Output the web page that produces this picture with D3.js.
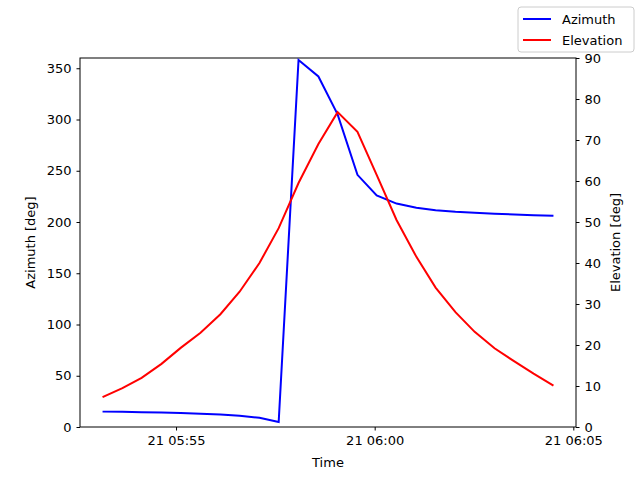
<!DOCTYPE html><html><head><script src="https://cdn.jsdelivr.net/npm/d3@7"></script>
<style>body{margin:0}text{font-family:"DejaVu Sans";}</style></head><body><svg width="640" height="480"></svg><script>
const times=["05:53:09","05:53:39","05:54:08","05:54:38","05:55:07","05:55:37","05:56:07","05:56:36","05:57:06","05:57:35","05:58:05","05:58:35","05:59:04","05:59:34","06:00:03","06:00:33","06:01:03","06:01:32","06:02:02","06:02:31","06:03:01","06:03:31","06:04:00","06:04:30"];
const azimuth=[15,14.8,14.5,14.2,13.7,13,12.2,11,9,4.9,358,342,305,246,226,218,214,211.5,210,209,208,207.3,206.7,206];
const elevation=[7.3,9.5,12,15.4,19.3,23,27.5,33,40,48.5,59.5,69,76.8,72,61.5,50.5,41.5,34,28,23.2,19.2,16,13,10.1];
const xTicks=["05:55:00","06:00:00","06:05:00"];
const yLeftTicks=[0,50,100,150,200,250,300,350];
const yRightTicks=[0,10,20,30,40,50,60,70,80,90];
const p=d3.timeParse("%H:%M:%S");
const svg=d3.select("svg");
const L=80,R=576,T=58,B=427;
const t=times.map(p);
const span=t[t.length-1]-t[0];
const x=d3.scaleTime().domain([new Date(+t[0]-span*0.05),new Date(+t[t.length-1]+span*0.05)]).range([L,R]);
const yl=d3.scaleLinear().domain([0,360]).range([B,T]);
const yr=d3.scaleLinear().domain([0,90]).range([B,T]);
const fmt=d3.timeFormat("21 %H:%M");
svg.append("g").attr("transform",`translate(0,${B})`).call(d3.axisBottom(x).tickValues(xTicks.map(p)).tickFormat(fmt).tickSizeOuter(0).tickSize(3.5).tickPadding(5));
svg.append("g").attr("transform",`translate(${L},0)`).call(d3.axisLeft(yl).tickValues(yLeftTicks).tickSizeOuter(0).tickSize(3.5).tickPadding(5));
svg.append("g").attr("transform",`translate(${R},0)`).call(d3.axisRight(yr).tickValues(yRightTicks).tickSizeOuter(0).tickSize(3.5).tickPadding(5));
svg.selectAll(".tick text").attr("font-size",13).attr("font-family","DejaVu Sans").attr("fill","#000");
svg.selectAll(".domain").remove();
svg.append("rect").attr("x",L).attr("y",T).attr("width",R-L).attr("height",B-T).attr("fill","none").attr("stroke","#000").attr("stroke-width",1);
const la=d3.line().x((d,i)=>x(t[i])).y(d=>yl(d));
const le=d3.line().x((d,i)=>x(t[i])).y(d=>yr(d));
svg.append("path").attr("d",la(azimuth)).attr("fill","none").attr("stroke","blue").attr("stroke-width",2);
svg.append("path").attr("d",le(elevation)).attr("fill","none").attr("stroke","red").attr("stroke-width",2);
svg.append("text").attr("x",(L+R)/2).attr("y",467).attr("text-anchor","middle").attr("font-size",13).text("Time");
svg.append("text").attr("transform",`translate(35,${(T+B)/2}) rotate(-90)`).attr("text-anchor","middle").attr("font-size",13).text("Azimuth [deg]");
svg.append("text").attr("transform",`translate(620,${(T+B)/2}) rotate(-90)`).attr("text-anchor","middle").attr("font-size",13).text("Elevation [deg]");
const lg=svg.append("g");
lg.append("rect").attr("x",518).attr("y",7).attr("width",116).attr("height",45).attr("rx",3).attr("fill","#fff").attr("stroke","#ccc");
[["Azimuth","blue"],["Elevation","red"]].forEach((d,i)=>{
 const yy=19+i*21;
 lg.append("line").attr("x1",523).attr("x2",551).attr("y1",yy).attr("y2",yy).attr("stroke",d[1]).attr("stroke-width",2);
 lg.append("text").attr("x",562).attr("y",yy+4.5).attr("font-size",13).text(d[0]);
});
</script></body></html>
